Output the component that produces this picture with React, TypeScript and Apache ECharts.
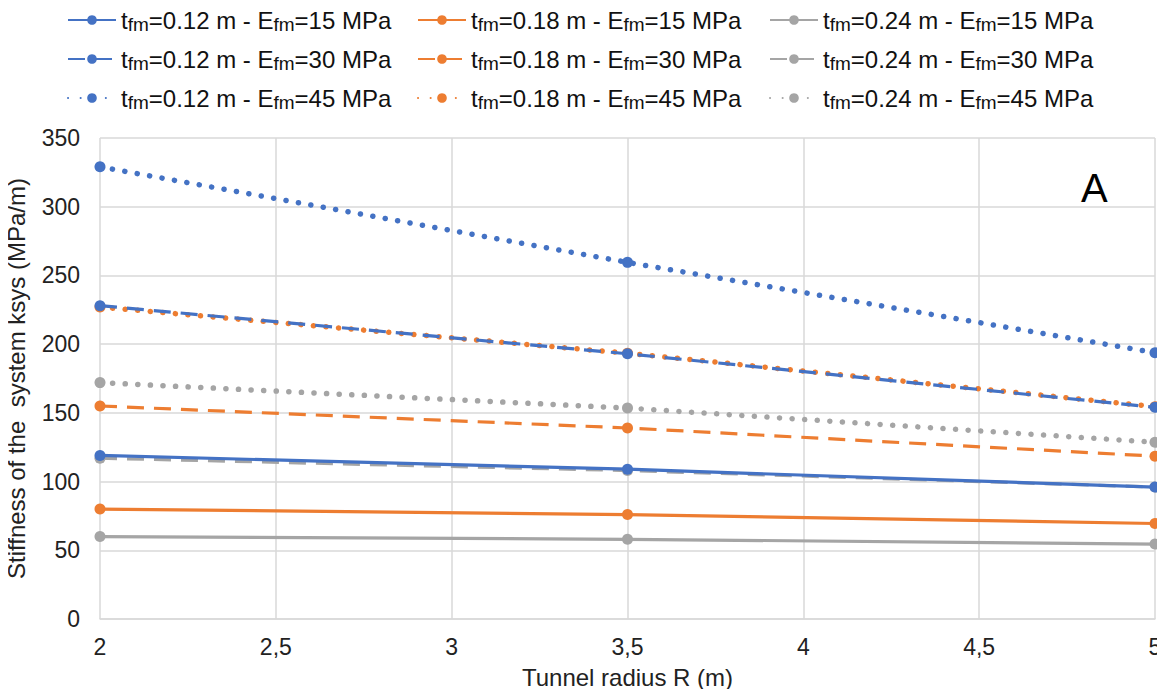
import React, { useEffect, useRef } from "react";
import * as echarts from "echarts";

const radii = [2, 3.5, 5];
const seriesNames = [
  "t=0.12 m - E=15 MPa",
  "t=0.18 m - E=15 MPa",
  "t=0.24 m - E=15 MPa",
  "t=0.12 m - E=30 MPa",
  "t=0.18 m - E=30 MPa",
  "t=0.24 m - E=30 MPa",
  "t=0.12 m - E=45 MPa",
  "t=0.18 m - E=45 MPa",
  "t=0.24 m - E=45 MPa",
];
const t012E15 = [119, 109, 96];
const t018E15 = [80, 76, 69.5];
const t024E15 = [60, 58, 54.5];
const t012E30 = [228, 193, 154];
const t018E30 = [155, 139, 118.5];
const t024E30 = [117, 108, 96];
const t012E45 = [329, 259.5, 193.8];
const t018E45 = [227, 193.4, 154.5];
const t024E45 = [172, 153.5, 128.6];
const values = [t012E15, t018E15, t024E15, t012E30, t018E30, t024E30, t012E45, t018E45, t024E45];
const colors = ["#4472C4", "#ED7D31", "#A5A5A5"];

export default function App() {
  const ref = useRef<HTMLDivElement>(null);
  useEffect(() => {
    const chart = echarts.init(ref.current!, null, { renderer: "svg" });
    const lineTypes: any[] = ["solid", [17, 10], [0.1, 12.5]];
    const series = seriesNames.map((name, i) => {
      const c = colors[i % 3];
      const styleIdx = Math.floor(i / 3);
      return {
        name,
        type: "line",
        data: radii.map((x, j) => [x, values[i][j]]),
        symbol: "circle",
        symbolSize: 11,
        itemStyle: { color: c },
        lineStyle: {
          color: c,
          width: styleIdx === 2 ? 5.5 : 3.2,
          type: lineTypes[styleIdx],
          cap: styleIdx === 2 ? "round" : "butt",
        },
        z: 10 - i,
      };
    });
    const fmt = (name: string) => {
      const m = name.match(/t=(\S+) m - E=(\S+) MPa/)!;
      return `{n|t}{s|fm}{n|=${m[1]} m - E}{s|fm}{n|=${m[2]} MPa}`;
    };
    const ff = "Liberation Sans, Arial, sans-serif";
    const rich = {
      n: { fontSize: 24, color: "#111", fontFamily: ff, lineHeight: 28, verticalAlign: "middle" },
      s: { fontSize: 19, color: "#111", fontFamily: ff, lineHeight: 28, verticalAlign: "bottom", padding: [16, 0, 0, 0] },
    };
    const legendCol = (left: number, names: string[]) => ({
      orient: "vertical",
      left,
      top: -6,
      itemWidth: 48,
      itemHeight: 12,
      itemGap: 4,
      data: names,
      formatter: fmt,
      textStyle: { rich },
    });
    chart.setOption({
      animation: false,
      backgroundColor: "#fff",
      legend: [
        legendCol(62, [seriesNames[0], seriesNames[3], seriesNames[6]]),
        legendCol(412, [seriesNames[1], seriesNames[4], seriesNames[7]]),
        legendCol(764, [seriesNames[2], seriesNames[5], seriesNames[8]]),
      ],
      grid: { left: 100, right: 10, top: 138, bottom: 78, outerBoundsMode: "none", containLabel: false },
      xAxis: {
        type: "value",
        min: 2,
        max: 5,
        interval: 0.5,
        name: "Tunnel radius R (m)",
        nameLocation: "middle",
        nameGap: 46,
        nameTextStyle: { fontSize: 24, color: "#222", fontFamily: ff },
        axisLine: { show: true, lineStyle: { color: "#d9d9d9", width: 1.5 } },
        axisTick: { show: false },
        splitLine: { show: true, lineStyle: { color: "#d9d9d9", width: 1.5 } },
        axisLabel: {
          fontSize: 23,
          color: "#222",
          margin: 16,
          fontFamily: ff,
          formatter: (v: number) => String(v).replace(".", ","),
        },
      },
      yAxis: {
        type: "value",
        min: 0,
        max: 350,
        interval: 50,
        name: "Stiffness of the  system ksys (MPa/m)",
        nameLocation: "middle",
        nameGap: 72,
        nameTextStyle: { fontSize: 24, color: "#222", fontFamily: ff },
        axisLine: { show: false },
        axisTick: { show: false },
        splitLine: { show: true, lineStyle: { color: "#d9d9d9", width: 1.5 } },
        axisLabel: { fontSize: 23, color: "#222", margin: 20, fontFamily: ff },
      },
      graphic: [
        {
          type: "text",
          left: 1081,
          top: 168,
          style: { text: "A", fontSize: 40, fill: "#000", fontFamily: ff },
        },
      ],
      series,
    });
    return () => chart.dispose();
  }, []);
  return <div ref={ref} style={{ width: 1165, height: 697, margin: -8 }} />;
}
